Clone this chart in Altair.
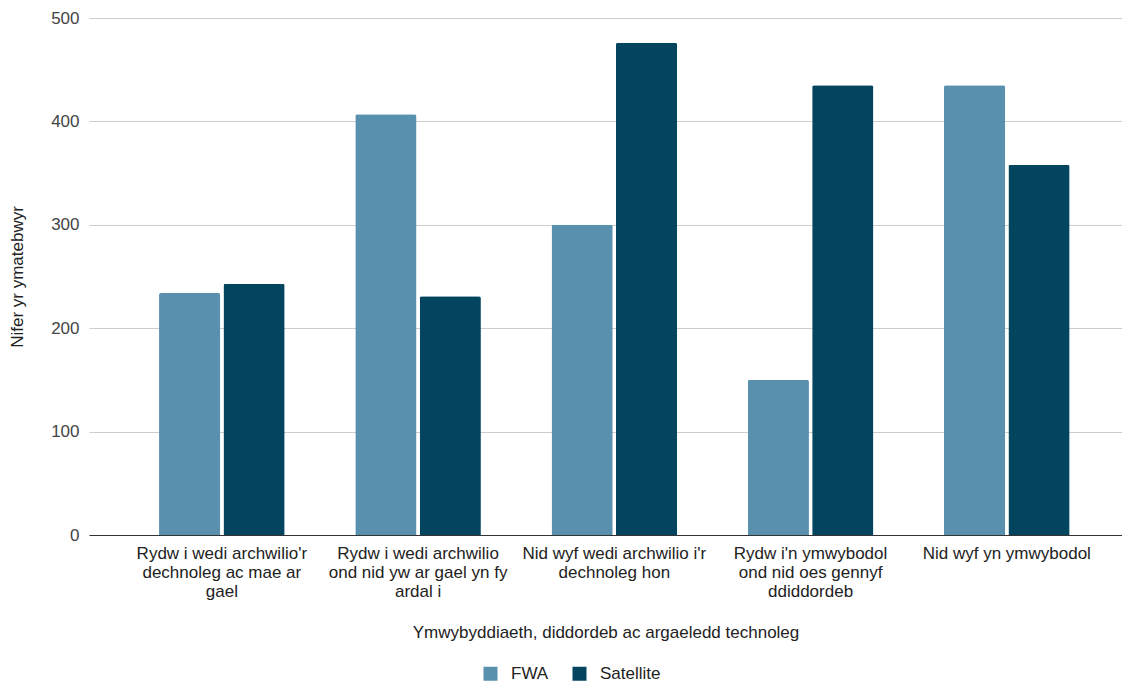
import json
import altair as alt
import pandas as pd

categories = [
    "Rydw i wedi archwilio'r dechnoleg ac mae ar gael",
    "Rydw i wedi archwilio ond nid yw ar gael yn fy ardal i",
    "Nid wyf wedi archwilio i'r dechnoleg hon",
    "Rydw i'n ymwybodol ond nid oes gennyf ddiddordeb",
    "Nid wyf yn ymwybodol",
]
category_lines = [
    ["Rydw i wedi archwilio'r", "dechnoleg ac mae ar", "gael"],
    ["Rydw i wedi archwilio", "ond nid yw ar gael yn fy", "ardal i"],
    ["Nid wyf wedi archwilio i'r", "dechnoleg hon"],
    ["Rydw i'n ymwybodol", "ond nid oes gennyf", "ddiddordeb"],
    ["Nid wyf yn ymwybodol"],
]
series = ["FWA", "Satellite"]
fwa_values = [234, 407, 300, 150, 435]
satellite_values = [243, 231, 476, 435, 358]
colors = ["#5990AE", "#03445F"]

rows = []
for c, f, s in zip(categories, fwa_values, satellite_values):
    rows.append({"cat": c, "series": "FWA", "value": f})
    rows.append({"cat": c, "series": "Satellite", "value": s})
df = pd.DataFrame(rows)

label_map = json.dumps(dict(zip(categories, category_lines)))
label_expr = f"{label_map}[datum.value]"

FONT = "Liberation Sans"

chart = alt.Chart(df).mark_bar(
    cornerRadiusTopLeft=2, cornerRadiusTopRight=2
).encode(
    x=alt.X(
        "cat:N",
        sort=categories,
        scale=alt.Scale(paddingInner=0.36, paddingOuter=0.312, align=0.572),
        axis=alt.Axis(
            title="Ymwybyddiaeth, diddordeb ac argaeledd technoleg",
            labelExpr=label_expr,
            labelAngle=0,
            labelFontSize=17,
            labelColor="#222222",
            labelFont=FONT,
            labelLineHeight=19,
            labelPadding=10,
            labelLimit=300,
            ticks=False,
            domainColor="#333333",
            domainWidth=1,
            titleFontSize=17,
            titleFontWeight="normal",
            titleFont=FONT,
            titleColor="#222222",
            titlePadding=25,
        ),
    ),
    xOffset=alt.XOffset("series:N", sort=series, scale=alt.Scale(paddingInner=0.05)),
    y=alt.Y(
        "value:Q",
        scale=alt.Scale(domain=[0, 500]),
        axis=alt.Axis(
            title="Nifer yr ymatebwyr",
            values=[0, 100, 200, 300, 400, 500],
            labelFontSize=17,
            labelColor="#444444",
            labelFont=FONT,
            labelPadding=10,
            ticks=False,
            domain=False,
            gridColor="#CCCCCC",
            titleFontSize=17,
            titleFontWeight="normal",
            titleFont=FONT,
            titleColor="#222222",
            titlePadding=24,
        ),
    ),
    color=alt.Color(
        "series:N",
        sort=series,
        scale=alt.Scale(domain=series, range=colors),
        legend=alt.Legend(
            title=None,
            orient="none",
            legendX=393,
            legendY=647,
            direction="horizontal",
            symbolType="square",
            symbolSize=196,
            symbolStrokeWidth=0,
            labelFontSize=17,
            labelFont=FONT,
            labelColor="#222222",
            labelOffset=12,
            columnPadding=22,
        ),
    ),
).properties(
    width=1033,
    height=517,
    padding={"top": 1, "left": 0, "right": 0, "bottom": 0},
).configure_view(stroke=None).configure_axis(gridWidth=1)

chart.save("out.html", embed_options={"renderer": "svg", "actions": False})
